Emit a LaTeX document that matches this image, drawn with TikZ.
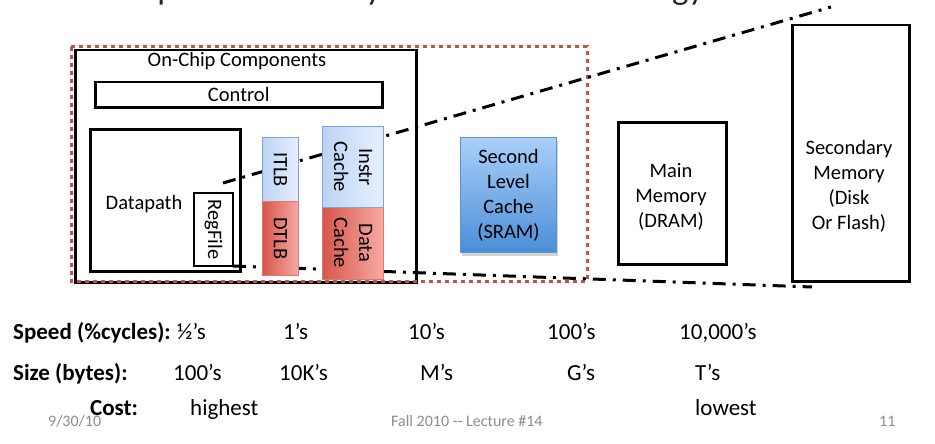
\documentclass[tikz,border=0pt]{standalone}
\usepackage{fontspec}
\setmainfont{Carlito}
\usetikzlibrary{shadows,calc}
\definecolor{blueL}{RGB}{188,211,245}
\definecolor{blueR}{RGB}{232,240,253}
\definecolor{blueB}{RGB}{125,165,220}
\definecolor{redL}{RGB}{214,86,74}
\definecolor{redR}{RGB}{247,170,164}
\definecolor{redB}{RGB}{222,120,110}
\definecolor{l2T}{RGB}{170,207,250}
\definecolor{l2B}{RGB}{74,142,214}
\definecolor{l2D}{RGB}{95,148,210}
\definecolor{dotred}{RGB}{196,82,76}
\begin{document}
\begin{tikzpicture}[x=1pt,y=-1pt,
  lbl/.style={font=\fontsize{20.5}{25}\selectfont, align=center, inner sep=0pt},
  rowlbl/.style={font=\fontsize{23}{27}\selectfont\bfseries, anchor=base west, inner sep=0pt},
  rowval/.style={font=\fontsize{23}{27}\selectfont, anchor=base west, inner sep=0pt},
  foot/.style={font=\fontsize{16}{18}\selectfont, text=black!45, anchor=base west, inner sep=0pt},
  box/.style={draw=black, line width=2.5pt, inner sep=0pt, anchor=north west},
  bluebox/.style={draw=blueB, line width=1pt, left color=blueL, right color=blueR, inner sep=0pt, anchor=north west},
  redbox/.style={draw=redB, line width=1pt, left color=redL, right color=redR, inner sep=0pt, anchor=north west},
  dd/.style={line width=3pt, dash pattern=on 13pt off 7pt on 3pt off 7pt}]
\useasboundingbox (0,0) rectangle (935,444);
\clip (0,0) rectangle (935,444);
% cut-off title line
\node[anchor=base west, inner sep=0pt, font=\fontsize{35}{36}\selectfont, text=black!85] (title) at (88,-0.5) {the speed offered by the fastest technology};
% outer boxes
\node[box, minimum width=341pt, minimum height=232pt] (onchip) at (74,49) {};
\node[lbl, anchor=center] (onchipt) at (237,61) {On-Chip Components};
\node[box, minimum width=287pt, minimum height=25pt] (control) at (94,81) {};
\node[lbl] (controlt) at (control) {Control};
\node[box, minimum width=150pt, minimum height=142pt] (datapath) at (89,128) {};
\node[lbl] (datapatht) at (144,204) {Datapath};
\node[box, minimum width=39pt, minimum height=73pt, line width=2pt] (regfile) at (193,192) {};
\node[lbl, rotate=-90] (regfilet) at (regfile) {RegFile};
\draw[dotred, line width=3pt, dash pattern=on 4pt off 4pt] (71,47) rectangle (587,281);
% dash-dot connectors
\coordinate (u1) at (223,183);
\coordinate (u2) at (831,7);
\coordinate (l1) at (233,266);
\coordinate (l2) at (812,287);
\draw[dd] (u1) -- (u2);
\draw[dd] (l1) -- (l2);
% caches
\node[bluebox, minimum width=36pt, minimum height=64pt] (itlb) at (262,137) {};
\node[lbl, rotate=-90] (itlbt) at (itlb) {ITLB};
\node[redbox, minimum width=36pt, minimum height=74pt] (dtlb) at (262,201) {};
\node[lbl, rotate=-90] (dtlbt) at (dtlb) {DTLB};
\node[redbox, minimum width=61pt, minimum height=81pt] (dcache) at (322,198) {};
\node[lbl, rotate=-90] (dcachet) at ($(dcache.center)+(0,4)$) {Data\\Cache};
\node[bluebox, minimum width=61pt, minimum height=81pt] (icache) at (322,126) {};
\node[lbl, rotate=-90] (icachet) at (icache) {Instr\\Cache};
% second level cache
\node[draw=l2D, line width=1pt, top color=l2T, bottom color=l2B, minimum width=96pt, minimum height=115pt, inner sep=0pt, anchor=north west,
  drop shadow={shadow xshift=1pt, shadow yshift=-3pt, opacity=0.35}] (l2c) at (460,137) {};
\node[lbl] (l2ct) at (l2c) {Second\\Level\\Cache\\(SRAM)};
% main memory
\node[box, minimum width=108pt, minimum height=142pt] (mainm) at (617,121) {};
\node[lbl] (mainmt) at (671,197) {Main\\Memory\\(DRAM)};
% secondary memory
\node[box, minimum width=117pt, minimum height=256pt] (secm) at (791,24) {};
\node[lbl] (secmt) at (849,186) {Secondary\\Memory\\(Disk\\Or Flash)};
% rows
\node[rowlbl] (speedl) at (13,339) {Speed (\%cycles):};
\node[rowval] (s1) at (177,339) {½’s};
\node[rowval] (s2) at (283,339) {1’s};
\node[rowval] (s3) at (408,339) {10’s};
\node[rowval] (s4) at (547,339) {100’s};
\node[rowval] (s5) at (679,339) {10,000’s};
\node[rowlbl] (sizel) at (13,380) {Size (bytes):};
\node[rowval] (z1) at (173,380) {100’s};
\node[rowval] (z2) at (279,380) {10K’s};
\node[rowval] (z3) at (420,380) {M’s};
\node[rowval] (z4) at (567,380) {G’s};
\node[rowval] (z5) at (695,380) {T’s};
\node[rowlbl] (costl) at (90,415) {Cost:};
\node[rowval] (c1) at (190,415) {highest};
\node[rowval] (c2) at (695,415) {lowest};
% footer
\node[foot] (date) at (48,426) {9/30/10};
\node[foot] (lect) at (391,426) {Fall 2010 -{}- Lecture \#14};
\node[foot] (pg) at (879,426) {11};
\end{tikzpicture}
\end{document}
